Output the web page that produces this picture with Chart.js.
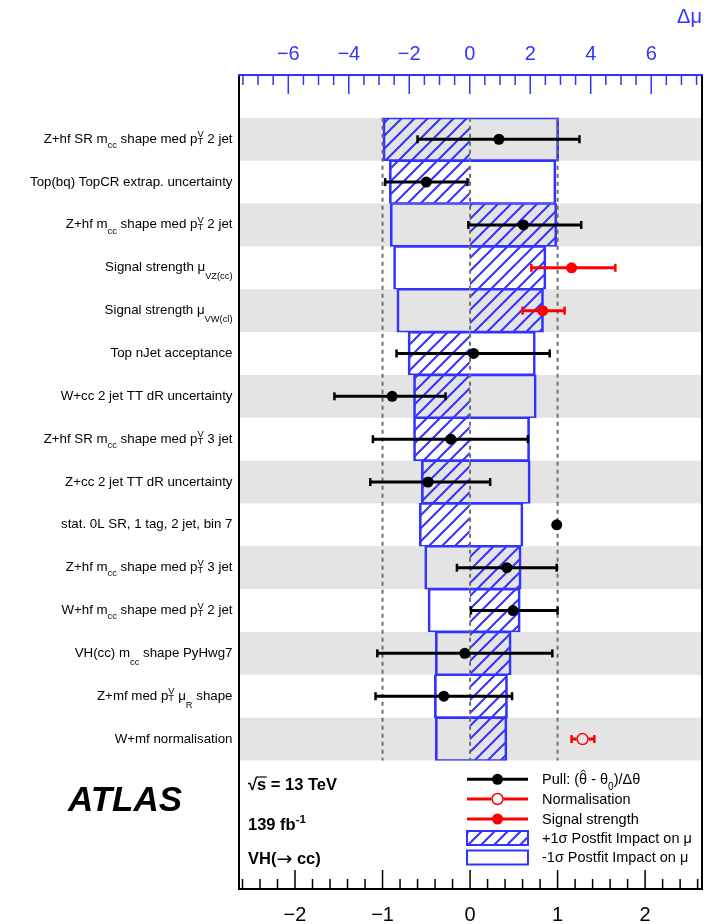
<!DOCTYPE html>
<html>
<head>
<meta charset="utf-8">
<script src="https://cdn.jsdelivr.net/npm/chart.js@4/dist/chart.umd.min.js"></script>
<style>
  html, body { margin: 0; padding: 0; background: #fff; }
  #wrap { width: 721px; height: 924px; }
</style>
</head>
<body>
<div id="wrap"><canvas id="c" width="721" height="924"></canvas></div>
<script>
// ---- ranked nuisance parameters (markup: _{} sub, __{} low sub, ^{} sup) ----
const NAMES = [
  'Z+hf SR m_{cc} shape med p_{T}^{V} 2 jet',
  'Top(bq) TopCR extrap. uncertainty',
  'Z+hf m_{cc} shape med p_{T}^{V} 2 jet',
  'Signal strength \u03bc__{VZ(cc)}',
  'Signal strength \u03bc__{VW(cl)}',
  'Top nJet acceptance',
  'W+cc 2 jet TT dR uncertainty',
  'Z+hf SR m_{cc} shape med p_{T}^{V} 3 jet',
  'Z+cc 2 jet TT dR uncertainty',
  'stat. 0L SR, 1 tag, 2 jet, bin 7',
  'Z+hf m_{cc} shape med p_{T}^{V} 3 jet',
  'W+hf m_{cc} shape med p_{T}^{V} 2 jet',
  'VH(cc) m__{cc} shape PyHwg7',
  'Z+mf med p_{T}^{V} \u03bc__{R} shape',
  'W+mf normalisation'
];

// postfit impact on mu (top axis)
const IMPACT_UP   = [-2.87, -2.66,  2.88,  2.52,  2.44, -2.04, -1.86, -1.86, -1.60, -1.67,  1.70,  1.67,  1.37,  1.25,  1.23];
const IMPACT_DOWN = [ 2.94,  2.85, -2.63, -2.52, -2.41,  2.17,  2.20,  1.98,  2.00,  1.76, -1.49, -1.38, -1.14, -1.17, -1.14];

// pulls (bottom axis)
const PULL    = [ 0.33, -0.50,  0.61, null, null,  0.04, -0.89, -0.22, -0.48, 0.99,  0.42, 0.49, -0.06, -0.30, null];
const PULL_LO = [-0.60, -0.97, -0.02, null, null, -0.84, -1.55, -1.11, -1.14, null, -0.15, 0.01, -1.06, -1.08, null];
const PULL_HI = [ 1.25, -0.03,  1.27, null, null,  0.91, -0.28,  0.66,  0.23, null,  0.99, 1.00,  0.94,  0.48, null];

// signal strengths
const SIG    = [null, null, null, 1.16, 0.83, null, null, null, null, null, null, null, null, null, null];
const SIG_LO = [null, null, null, 0.70, 0.60, null, null, null, null, null, null, null, null, null, null];
const SIG_HI = [null, null, null, 1.66, 1.08, null, null, null, null, null, null, null, null, null, null];

// normalisation factors
const NORM    = [null, null, null, null, null, null, null, null, null, null, null, null, null, null, 1.285];
const NORM_LO = [null, null, null, null, null, null, null, null, null, null, null, null, null, null, 1.16];
const NORM_HI = [null, null, null, null, null, null, null, null, null, null, null, null, null, null, 1.42];

// axes
const PULL_MIN = -2.64, PULL_MAX = 2.65;
const DMU_MIN = -7.63, DMU_MAX = 7.68;
const PULL_TICKS = [-2, -1, 0, 1, 2];
const DMU_TICKS = [-6, -4, -2, 0, 2, 4, 6];
const PULL_GUIDES = [-1, 0, 1];

// empty rows above / below the ranked list (room for the legend)
const PAD_TOP = 1, PAD_BOTTOM = 3;

const FONT = '"Liberation Sans", Arial, Helvetica, sans-serif';
const SYMFONT = '"DejaVu Sans", sans-serif';
const BLUE = '#3333ff';
const RED = '#ff0000';
const BAND = '#e4e4e4';

const slot = arr => [...Array(PAD_TOP).fill(null), ...arr, ...Array(PAD_BOTTOM).fill(null)];
const MARKUP = /(__|_|\^|#hat|#sym)\{([^}]*)\}/g;
const plain = s => s.replace(MARKUP, '$2');
const LABELS = [...Array(PAD_TOP).fill(''), ...NAMES.map(plain), ...Array(PAD_BOTTOM).fill('')];

function makeHatch(color) {
  const s = 13;
  const c = document.createElement('canvas');
  c.width = s; c.height = s;
  const g = c.getContext('2d');
  g.strokeStyle = color; g.lineWidth = 2;
  g.beginPath();
  g.moveTo(-2, s + 2); g.lineTo(s + 2, -2);
  g.moveTo(-3, 3); g.lineTo(3, -3);
  g.moveTo(s - 3, s + 3); g.lineTo(s + 3, s - 3);
  g.stroke();
  return g.createPattern(c, 'repeat');
}
const HATCH = makeHatch(BLUE);

// ---- small rich-text helper for sub/superscripts ----
function tokens(s) {
  const re = new RegExp(MARKUP.source, 'g');
  const kinds = { '^': 'sup', '__': 'dsub', '_': 'sub', '#hat': 'hat', '#sym': 'sym' };
  const out = []; let last = 0, m;
  while ((m = re.exec(s))) {
    if (m.index > last) out.push({ k: 'n', t: s.slice(last, m.index) });
    out.push({ k: kinds[m[1]], t: m[2] });
    last = re.lastIndex;
  }
  if (last < s.length) out.push({ k: 'n', t: s.slice(last) });
  const g = [];
  for (let i = 0; i < out.length; i++) {
    const a = out[i], b = out[i + 1];
    if (a.k === 'sub' && b && b.k === 'sup') { g.push({ k: 'stack', lo: a.t, hi: b.t }); i++; }
    else g.push(a);
  }
  return g;
}
function fontStr(size, weight, style, fam) {
  return `${style || 'normal'} ${weight || 'normal'} ${size}px ${fam || FONT}`;
}
function drawRich(ctx, s, x, baseline, o) {
  const size = o.size, ss = size * 0.7;
  const main = fontStr(size, o.weight, o.style), small = fontStr(ss, o.weight, o.style);
  const sym = fontStr(size * 1.15, 'normal', o.style, SYMFONT);
  const g = tokens(s);
  const widthOf = t => {
    if (t.k === 'n' || t.k === 'hat') { ctx.font = main; return ctx.measureText(t.t).width; }
    if (t.k === 'sym') { ctx.font = sym; return ctx.measureText(t.t).width; }
    ctx.font = small;
    if (t.k === 'stack') return Math.max(ctx.measureText(t.lo).width, ctx.measureText(t.hi).width);
    return ctx.measureText(t.t).width;
  };
  const total = g.reduce((w, t) => w + widthOf(t), 0);
  let cx = o.align === 'right' ? x - total : x;
  ctx.fillStyle = o.color || '#000';
  ctx.strokeStyle = o.color || '#000';
  ctx.textAlign = 'left';
  ctx.textBaseline = 'alphabetic';
  for (const t of g) {
    const w = widthOf(t);
    if (t.k === 'n') { ctx.font = main; ctx.fillText(t.t, cx, baseline); }
    else if (t.k === 'sym') { ctx.font = sym; ctx.fillText(t.t, cx, baseline + size * 0.04); }
    else if (t.k === 'hat') {
      ctx.font = main; ctx.fillText(t.t, cx, baseline);
      const top = baseline - size * 0.78, mid = cx + w / 2;
      ctx.lineWidth = 1;
      ctx.beginPath();
      ctx.moveTo(mid - 2.6, top - 0.5); ctx.lineTo(mid, top - 3); ctx.lineTo(mid + 2.6, top - 0.5);
      ctx.stroke();
    } else {
      ctx.font = small;
      if (t.k === 'sub') ctx.fillText(t.t, cx, baseline + size * 0.38);
      else if (t.k === 'dsub') ctx.fillText(t.t, cx, baseline + size * 0.6);
      else if (t.k === 'sup') ctx.fillText(t.t, cx, baseline - size * 0.42);
      else { ctx.fillText(t.lo, cx, baseline + size * 0.12); ctx.fillText(t.hi, cx, baseline - size * 0.4); }
    }
    cx += w;
  }
  return total;
}

function seg(ctx, x1, y1, x2, y2) { ctx.beginPath(); ctx.moveTo(x1, y1); ctx.lineTo(x2, y2); ctx.stroke(); }

function errorBar(ctx, xs, yc, lo, hi, color, gap) {
  const x1 = xs.getPixelForValue(lo), x2 = xs.getPixelForValue(hi);
  ctx.strokeStyle = color;
  ctx.lineWidth = 3;
  if (gap) {
    seg(ctx, x1, yc, gap.x - gap.r, yc);
    seg(ctx, gap.x + gap.r, yc, x2, yc);
  } else {
    seg(ctx, x1, yc, x2, yc);
  }
  ctx.lineWidth = 2.5;
  seg(ctx, x1, yc - 4, x1, yc + 4);
  seg(ctx, x2, yc - 4, x2, yc + 4);
}

function minorTicks(ctx, scale, edge, dir, step, every) {
  const k0 = Math.ceil(scale.min / step - 1e-9), k1 = Math.floor(scale.max / step + 1e-9);
  for (let k = k0; k <= k1; k++) {
    const x = scale.getPixelForValue(k * step);
    const len = (k % every === 0) ? 19 : 10;
    seg(ctx, x, edge, x, edge + dir * len);
  }
}

const decor = {
  id: 'decor',
  beforeDatasetsDraw(chart) {
    const { ctx, chartArea: a, scales: { y } } = chart;
    const band = a.height / LABELS.length;
    ctx.save();
    ctx.fillStyle = BAND;
    NAMES.forEach((_, i) => {
      if (i % 2 === 0) {
        const yc = y.getPixelForValue(i + PAD_TOP);
        ctx.fillRect(a.left, yc - band / 2, a.width, band);
      }
    });
    ctx.restore();
    chart.$overlayDone = false;
  },
  beforeDatasetDraw(chart, args) {
    if (chart.$overlayDone || args.meta.type !== 'line') return;
    chart.$overlayDone = true;
    const { ctx, chartArea: a, scales: { x, y } } = chart;
    const band = a.height / LABELS.length;
    const yTop = y.getPixelForValue(PAD_TOP) - band / 2;
    const yBot = y.getPixelForValue(PAD_TOP + NAMES.length - 1) + band / 2;
    ctx.save();
    ctx.strokeStyle = '#6e6e6e';
    ctx.lineWidth = 2;
    ctx.setLineDash([4, 4]);
    PULL_GUIDES.forEach(v => { const px = x.getPixelForValue(v); seg(ctx, px, yTop, px, yBot); });
    ctx.setLineDash([]);
    NAMES.forEach((_, i) => {
      const yc = y.getPixelForValue(i + PAD_TOP);
      if (PULL_LO[i] != null) errorBar(ctx, x, yc, PULL_LO[i], PULL_HI[i], '#000');
      if (SIG_LO[i] != null) errorBar(ctx, x, yc, SIG_LO[i], SIG_HI[i], RED);
      if (NORM_LO[i] != null) errorBar(ctx, x, yc, NORM_LO[i], NORM_HI[i], RED, { x: x.getPixelForValue(NORM[i]), r: 6 });
    });
    ctx.restore();
  },
  afterDraw(chart) {
    const { ctx, chartArea: a, scales: { x, xTop, y } } = chart;
    ctx.save();
    // frame and axes
    ctx.lineWidth = 2;
    ctx.strokeStyle = '#000';
    seg(ctx, a.left, a.top, a.left, a.bottom);
    seg(ctx, a.right, a.top, a.right, a.bottom);
    seg(ctx, a.left - 1, a.bottom, a.right + 1, a.bottom);
    ctx.strokeStyle = BLUE;
    seg(ctx, a.left - 1, a.top, a.right + 1, a.top);
    ctx.lineWidth = 1.5;
    ctx.strokeStyle = BLUE;
    minorTicks(ctx, xTop, a.top, 1, 0.5, 4);
    ctx.strokeStyle = '#000';
    minorTicks(ctx, x, a.bottom, -1, 0.2, 5);

    // parameter names
    NAMES.forEach((n, i) => {
      const yc = y.getPixelForValue(i + PAD_TOP);
      drawRich(ctx, n, a.left - 6.5, yc + 3.5, { size: 13.3, align: 'right', color: '#000' });
    });

    // legend
    const lx0 = a.left + 228, lx1 = a.left + 289, lxc = (lx0 + lx1) / 2, tx = a.left + 303;
    const ly = [a.bottom - 109.7, a.bottom - 90, a.bottom - 70, a.bottom - 51, a.bottom - 31.5];
    ctx.lineWidth = 3;
    ctx.strokeStyle = '#000';
    seg(ctx, lx0, ly[0], lx1, ly[0]);
    ctx.fillStyle = '#000';
    ctx.beginPath(); ctx.arc(lxc, ly[0], 5.5, 0, Math.PI * 2); ctx.fill();
    ctx.strokeStyle = RED;
    seg(ctx, lx0, ly[1], lxc - 6, ly[1]);
    seg(ctx, lxc + 6, ly[1], lx1, ly[1]);
    ctx.lineWidth = 1.5;
    ctx.beginPath(); ctx.arc(lxc, ly[1], 5.5, 0, Math.PI * 2); ctx.stroke();
    ctx.lineWidth = 3;
    seg(ctx, lx0, ly[2], lx1, ly[2]);
    ctx.fillStyle = RED;
    ctx.beginPath(); ctx.arc(lxc, ly[2], 5.5, 0, Math.PI * 2); ctx.fill();
    ctx.lineWidth = 2;
    ctx.strokeStyle = BLUE;
    ctx.fillStyle = HATCH;
    ctx.fillRect(lx0, ly[3] - 7, lx1 - lx0, 14);
    ctx.strokeRect(lx0, ly[3] - 7, lx1 - lx0, 14);
    ctx.strokeRect(lx0, ly[4] - 7, lx1 - lx0, 14);
    const lt = ['Pull: (#hat{\u03b8} - \u03b8_{0})/\u0394\u03b8', 'Normalisation', 'Signal strength',
                '+1\u03c3 Postfit Impact on \u03bc', '-1\u03c3 Postfit Impact on \u03bc'];
    lt.forEach((t, i) => drawRich(ctx, t, tx, ly[i] + 4.8, { size: 14.5, color: '#000' }));

    // annotations
    const ax = a.left + 9;
    ctx.font = fontStr(16.5, 'bold');
    const wr = ctx.measureText('\u221a').width, ws = ctx.measureText('s').width;
    drawRich(ctx, '\u221as = 13 TeV', ax, a.bottom - 99, { size: 16.5, weight: 'bold' });
    ctx.strokeStyle = '#000'; ctx.lineWidth = 1.2;
    seg(ctx, ax + wr - 1, a.bottom - 99 - 13, ax + wr + ws + 0.5, a.bottom - 99 - 13);
    drawRich(ctx, '139 fb^{-1}', ax, a.bottom - 59, { size: 16.5, weight: 'bold' });
    drawRich(ctx, 'VH(#sym{\u2192} cc)', ax, a.bottom - 25, { size: 16.5, weight: 'bold' });
    drawRich(ctx, 'ATLAS', 68, a.bottom - 78, { size: 35, weight: 'bold', style: 'italic' });
    ctx.restore();
  }
};

const fmt = v => (v < 0 ? '\u2212' + Math.abs(v) : String(v));
const fixedTicks = list => s => { s.ticks = list.map(v => ({ value: v })); };

new Chart(document.getElementById('c'), {
  type: 'bar',
  data: {
    labels: LABELS,
    datasets: [
      {
        type: 'line', label: 'Pull', data: slot(PULL), indexAxis: 'y', xAxisID: 'x', yAxisID: 'y',
        showLine: false, pointRadius: 5.5, pointBackgroundColor: '#000', pointBorderWidth: 0, order: 0
      },
      {
        type: 'line', label: 'Signal strength', data: slot(SIG), indexAxis: 'y', xAxisID: 'x', yAxisID: 'y',
        showLine: false, pointRadius: 5.5, pointBackgroundColor: RED, pointBorderWidth: 0, order: 0
      },
      {
        type: 'line', label: 'Normalisation', data: slot(NORM), indexAxis: 'y', xAxisID: 'x', yAxisID: 'y',
        showLine: false, pointRadius: 5.5, pointBackgroundColor: 'rgba(0,0,0,0)',
        pointBorderColor: RED, pointBorderWidth: 1.5, order: 0
      },
      {
        label: '+1\u03c3 Postfit Impact on \u03bc', data: slot(IMPACT_UP.map(v => [0, v])),
        xAxisID: 'xTop', yAxisID: 'y', backgroundColor: HATCH, borderColor: BLUE,
        borderWidth: { left: 2, right: 2, top: 1, bottom: 1 }, borderSkipped: 'start',
        grouped: false, barPercentage: 1, categoryPercentage: 1, order: 1
      },
      {
        label: '-1\u03c3 Postfit Impact on \u03bc', data: slot(IMPACT_DOWN.map(v => [0, v])),
        xAxisID: 'xTop', yAxisID: 'y', backgroundColor: 'rgba(0,0,0,0)', borderColor: BLUE,
        borderWidth: { left: 2, right: 2, top: 1, bottom: 1 }, borderSkipped: 'start',
        grouped: false, barPercentage: 1, categoryPercentage: 1, order: 1
      }
    ]
  },
  options: {
    indexAxis: 'y',
    responsive: false,
    animation: false,
    devicePixelRatio: 1,
    events: [],
    layout: { padding: { left: 239, right: 19, top: 0, bottom: 0 } },
    plugins: { legend: { display: false }, tooltip: { enabled: false } },
    scales: {
      y: { type: 'category', display: false, offset: true, grid: { display: false } },
      x: {
        type: 'linear', position: 'bottom', min: PULL_MIN, max: PULL_MAX,
        afterBuildTicks: fixedTicks(PULL_TICKS),
        afterFit: s => { s.height = 35; },
        grid: { display: false, drawTicks: false }, border: { display: false },
        ticks: {
          autoSkip: false, maxRotation: 0, padding: 14,
          color: '#000', font: { family: FONT, size: 20 }, callback: fmt
        }
      },
      xTop: {
        type: 'linear', position: 'top', min: DMU_MIN, max: DMU_MAX,
        afterBuildTicks: fixedTicks(DMU_TICKS),
        afterFit: s => { s.height = 75; },
        grid: { display: false, drawTicks: false }, border: { display: false },
        ticks: {
          autoSkip: false, maxRotation: 0, padding: 8.8,
          color: BLUE, font: { family: FONT, size: 20 }, callback: fmt
        },
        title: {
          display: true, text: '\u0394\u03bc', align: 'end', color: BLUE,
          font: { family: FONT, size: 20 }, padding: { top: 5, bottom: 0 }
        }
      }
    }
  },
  plugins: [decor]
});
</script>
</body>
</html>
